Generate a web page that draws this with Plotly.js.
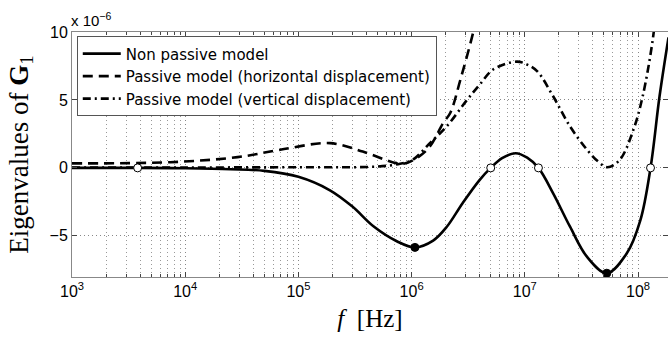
<!DOCTYPE html>
<html>
<head>
<meta charset="utf-8">
<script src="https://cdn.plot.ly/plotly-3.0.1.min.js"></script>
<style>html,body{margin:0;padding:0;background:#fff;}#chart{width:668px;height:346px;}</style>
</head>
<body>
<div id="chart"></div>
<script>
// Frequencies in Hz, values in units of 1e-6
const fSolid = [1e3, 3.8e3, 1e4, 2.5e4, 5e4, 1e5, 1.9e5, 3.0e5, 4.6e5, 7.4e5, 1.07e6, 1.55e6, 2.04e6, 2.82e6, 3.98e6, 5.0e6, 6.3e6, 8.3e6, 1.05e7, 1.32e7, 1.78e7, 2.51e7, 3.55e7, 5.3e7, 7.94e7, 1.05e8, 1.29e8, 1.55e8, 1.86e8];
const vSolid = [0, 0, -0.03, -0.1, -0.22, -0.66, -1.65, -2.85, -4.3, -5.4, -5.85, -5.35, -4.35, -2.6, -0.9, 0, 0.72, 1.08, 0.75, 0, -1.87, -4.33, -6.55, -7.75, -6.3, -3.84, 0, 5.27, 9.6];

const fHoriz = [1e3, 7.4e3, 2.9e4, 6.9e4, 1.9e5, 3.7e5, 6.9e5, 8.5e5, 1.12e6, 1.45e6, 1.9e6, 2.2e6, 2.7e6, 3.5e6, 4.5e6];
const vHoriz = [0.33, 0.42, 0.79, 1.33, 1.82, 1.2, 0.4, 0.3, 0.74, 1.57, 3.3, 4.06, 6.5, 9.97, 14];

const fVert = [1e3, 1e4, 1e5, 5e5, 7.9e5, 1.02e6, 1.45e6, 2.04e6, 3.1e6, 4.0e6, 5.25e6, 8.5e6, 1.05e7, 1.29e7, 1.78e7, 2.51e7, 3.55e7, 4.47e7, 5.37e7, 6.9e7, 9.1e7, 1.1e8, 1.35e8, 1.5e8];
const vVert = [0.03, 0.03, 0.05, 0.1, 0.3, 0.59, 1.82, 3.05, 5.02, 6.13, 7.24, 7.82, 7.6, 7.1, 5.27, 3.05, 1.33, 0.45, 0.05, 0.59, 2.8, 5.27, 9.45, 13];

const fOpen = [3.8e3, 5.0e6, 1.32e7, 1.29e8];
const vOpen = [0, 0, 0, 0];
const fFilled = [1.07e6, 5.3e7];
const vFilled = [-5.85, -7.75];

const names = ['Non passive model', 'Passive model (horizontal displacement)', 'Passive model (vertical displacement)'];
const xTickVals = [1e3, 1e4, 1e5, 1e6, 1e7, 1e8];
const xTickText = ['10<sup>3</sup>', '10<sup>4</sup>', '10<sup>5</sup>', '10<sup>6</sup>', '10<sup>7</sup>', '10<sup>8</sup>'];
const yTickVals = [-5, 0, 5, 10];
const yTickText = ['\u22125', '0', '5', '10'];

const traces = [
  {x: fSolid, y: vSolid, name: names[0], mode: 'lines', line: {color: '#000', width: 2.6, shape: 'spline', smoothing: 1}},
  {x: fHoriz, y: vHoriz, name: names[1], mode: 'lines', line: {color: '#000', width: 2.6, dash: '10px,6px', shape: 'spline', smoothing: 1}},
  {x: fVert, y: vVert, name: names[2], mode: 'lines', line: {color: '#000', width: 2.6, dash: '8px,4px,2px,4px', shape: 'spline', smoothing: 1}},
  {x: fOpen, y: vOpen, mode: 'markers', showlegend: false, marker: {size: 8, color: '#fff', line: {color: '#000', width: 1}}},
  {x: fFilled, y: vFilled, mode: 'markers', showlegend: false, marker: {size: 8, color: '#000', line: {color: '#000', width: 1}}}
];

const axisCommon = {
  showline: true, linecolor: '#888', linewidth: 1, mirror: 'ticks',
  ticks: 'inside', ticklen: 5, tickcolor: '#444', tickwidth: 1,
  showgrid: true, gridcolor: '#888', griddash: '1px,3px', gridwidth: 1,
  zeroline: false,
  tickfont: {family: 'Liberation Sans, Arial, sans-serif', size: 16, color: '#000'}
};

const layout = {
  width: 668, height: 346,
  margin: {l: 72, r: 0, t: 32, b: 69},
  paper_bgcolor: '#fff', plot_bgcolor: '#fff',
  showlegend: true,
  legend: {
    x: 0.008, y: 0.982, xanchor: 'left', yanchor: 'top',
    bgcolor: '#fff', bordercolor: '#555', borderwidth: 1,
    font: {family: 'DejaVu Sans, sans-serif', size: 15, color: '#000'},
    itemwidth: 38, tracegroupgap: 0
  },
  xaxis: Object.assign({}, axisCommon, {
    type: 'log', range: [3, 8.265],
    tickvals: xTickVals, ticktext: xTickText,
    minor: {dtick: 'D1', ticks: 'inside', ticklen: 3, tickcolor: '#444', showgrid: true, gridcolor: '#999', griddash: '1px,3px', gridwidth: 1},
    title: {text: '<i>f</i>  [Hz]', font: {family: 'Liberation Serif, DejaVu Serif, serif', size: 25, color: '#000'}, standoff: 10}
  }),
  yaxis: Object.assign({}, axisCommon, {
    range: [-8.03, 10],
    tickvals: yTickVals, ticktext: yTickText,
    title: {text: 'Eigenvalues of <b>G</b><sub>1</sub>', font: {family: 'Liberation Serif, DejaVu Serif, serif', size: 27, color: '#000'}, standoff: 13}
  }),
  annotations: [{
    xref: 'paper', yref: 'paper', x: 0, y: 1, xanchor: 'left', yanchor: 'bottom', yshift: 1, xshift: -3,
    text: 'x 10<sup>\u22126</sup>', showarrow: false,
    font: {family: 'Liberation Sans, Arial, sans-serif', size: 15, color: '#000'}
  }]
};

Plotly.newPlot('chart', traces, layout, {displayModeBar: false, staticPlot: true});
</script>
</body>
</html>
